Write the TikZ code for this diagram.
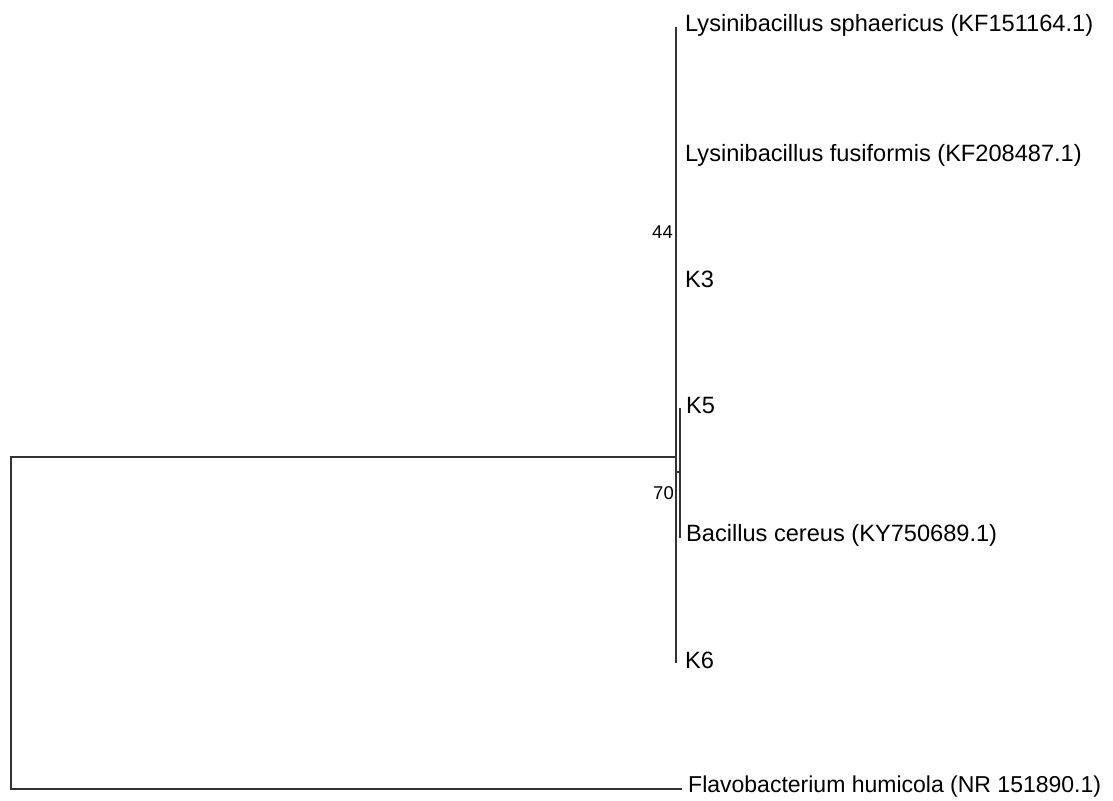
\documentclass[tikz,border=0pt]{standalone}
\usepackage{fontspec}
\setmainfont{Liberation Sans}
\usepackage{tikz}

\tikzset{
    leaf/.style={anchor=base west, inner sep=0pt, font=\fontsize{23.6}{27}\selectfont},
    boot/.style={anchor=base east, inner sep=0pt, font=\fontsize{18.5}{20}\selectfont},
    branch/.style={draw=black!80, line width=1.8pt, line cap=rect}
}

\begin{document}
\begin{tikzpicture}[x=1pt, y=-1pt]
    \useasboundingbox (0,0) rectangle (1113,800);

    % branch points and tips
    \coordinate (rtop) at (11,457);
    \coordinate (rbot) at (11,789);
    \coordinate (inA) at (676,457);
    \coordinate (tSph) at (676,28);
    \coordinate (tK6) at (676,662);
    \coordinate (aB) at (676,472);
    \coordinate (inB) at (680,472);
    \coordinate (tK5) at (680,409);
    \coordinate (tCer) at (680,537);
    \coordinate (tFla) at (681,789);

    % leaves
    \node [leaf] (sph) at (685,32) {Lysinibacillus sphaericus (KF151164.1)};
    \node [leaf] (fus) at (685,161) {Lysinibacillus fusiformis (KF208487.1)};
    \node [leaf] (k3) at (685,287) {K3};
    \node [leaf] (k5) at (686,413) {K5};
    \node [leaf] (cer) at (686,541) {Bacillus cereus (KY750689.1)};
    \node [leaf] (k6) at (685,668) {K6};
    \node [leaf, font=\fontsize{23}{27}\selectfont] (fla) at (688,792) {Flavobacterium humicola (NR 151890.1)};

    % bootstrap values
    \node [boot] (b44) at (673,238) {44};
    \node [boot] (b70) at (674,499) {70};

    % tree
    \draw [branch] (rtop) -- (rbot);
    \draw [branch] (rtop) -- (inA);
    \draw [branch] (rbot) -- (tFla);
    \draw [branch] (tSph) -- (tK6);
    \draw [branch] (aB) -- (inB);
    \draw [branch] (tK5) -- (tCer);
\end{tikzpicture}
\end{document}
